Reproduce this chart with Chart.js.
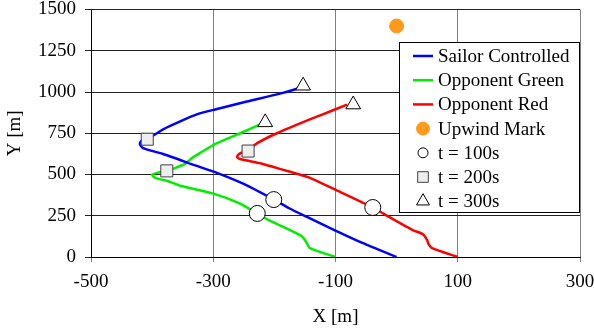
<!DOCTYPE html>
<html>
<head>
<meta charset="utf-8">
<script src="https://cdn.jsdelivr.net/npm/chart.js@4"></script>
<style>
  html, body { margin: 0; padding: 0; background: #fff; }
  #wrap { width: 594px; height: 334px; }
</style>
</head>
<body>
<div id="wrap"><canvas id="track"></canvas></div>
<script>
// boat tracks (metres)
const sailorX = [0, -55, -101, -145, -175, -201, -251, -294, -327, -382, -415, -420, -418, -410, -400, -382, -354, -327, -297, -245, -191, -163, -150];
const sailorY = [0, 84, 162, 240, 294, 348, 444, 510, 552, 624, 660, 684, 702, 720, 732, 774, 822, 864, 894, 942, 990, 1020, 1040];

const greenX = [-100, -142, -147, -152, -158, -191, -210, -228, -256, -300, -354, -376, -395, -400, -392, -376, -366, -346, -335, -322, -294, -256, -227, -220];
const greenY = [0, 54, 84, 114, 132, 192, 225, 264, 324, 384, 432, 462, 480, 498, 510, 522, 534, 564, 600, 630, 690, 750, 798, 810];

const redX = [100, 58, 52, 50, 43, 27, -11, -39, -104, -142, -191, -219, -256, -261, -258, -243, -228, -196, -142, -125, -81];
const redY = [0, 54, 80, 102, 138, 162, 240, 300, 414, 480, 534, 564, 594, 606, 624, 648, 690, 750, 834, 858, 924];

const markX = [0];
const markY = [1400];

// time stamps: sailor, green, red
const t100X = [-201, -228, -39];
const t100Y = [348, 264, 300];
const t200X = [-408, -376, -243];
const t200Y = [714, 522, 642];
const t300X = [-153, -215, -71];
const t300Y = [1038, 816, 924];

const xTicks = [-500, -300, -100, 100, 300];
const yTicks = [0, 250, 500, 750, 1000, 1250, 1500];

const toPts = (xs, ys) => xs.map((x, i) => ({ x: x, y: ys[i] }));

const SERIF = '"Liberation Serif", "Times New Roman", serif';

function track(label, xs, ys, color) {
  return {
    label: label,
    data: toPts(xs, ys),
    showLine: true,
    borderColor: color,
    backgroundColor: color,
    borderWidth: 2.5,
    pointRadius: 0,
    tension: 0.2,
    order: 2
  };
}

function stamp(label, xs, ys, style, r, fill, edge) {
  return {
    label: label,
    data: toPts(xs, ys),
    showLine: false,
    pointStyle: style,
    pointRadius: r,
    backgroundColor: fill,
    borderColor: edge,
    borderWidth: 1,
    order: 0
  };
}

const datasets = [
  track('Sailor Controlled', sailorX, sailorY, '#0000ff'),
  track('Opponent Green', greenX, greenY, '#00ee00'),
  track('Opponent Red', redX, redY, '#ff0000'),
  stamp('Upwind Mark', markX, markY, 'circle', 7, '#ff9a1a', '#ff9a1a'),
  stamp('t = 100s', t100X, t100Y, 'circle', 8, '#ffffff', '#000000'),
  stamp('t = 200s', t200X, t200Y, 'rect', 8.5, '#eeeeee', '#404040'),
  stamp('t = 300s', t300X, t300Y, 'triangle', 8.5, '#ffffff', '#000000')
];

// legend box drawn inside the plot, like the original
const boxLegend = {
  id: 'boxLegend',
  afterDraw(chart) {
    const ctx = chart.ctx;
    const left = 399, top = 42, right = chart.chartArea.right, bottom = 213;
    ctx.save();
    ctx.fillStyle = '#fff';
    ctx.fillRect(left, top, right - left, bottom - top);
    ctx.strokeStyle = '#000';
    ctx.lineWidth = 1;
    ctx.strokeRect(left + 0.5, top + 0.5, right - left - 1, bottom - top - 1);
    chart.data.datasets.forEach((ds, i) => {
      const y = 56 + i * 24.2;
      const cx = 423;
      if (ds.showLine) {
        ctx.strokeStyle = ds.borderColor;
        ctx.lineWidth = 2.5;
        ctx.beginPath();
        ctx.moveTo(413, y);
        ctx.lineTo(433, y);
        ctx.stroke();
      } else {
        let r = 5;
        if (ds.label === 'Upwind Mark') r = 6.5;
        if (ds.pointStyle !== 'circle') r = 7.5;
        ctx.fillStyle = ds.backgroundColor;
        ctx.strokeStyle = ds.borderColor;
        ctx.lineWidth = 1;
        Chart.helpers.drawPoint(ctx, { pointStyle: ds.pointStyle, radius: r, rotation: 0, borderWidth: 1 }, cx, y);
      }
      ctx.fillStyle = '#000';
      ctx.font = '19px ' + SERIF;
      ctx.textBaseline = 'middle';
      ctx.textAlign = 'left';
      ctx.fillText(ds.label, 438, y + 1);
    });
    ctx.restore();
  }
};

new Chart(document.getElementById('track'), {
  type: 'scatter',
  data: { datasets: datasets },
  options: {
    responsive: true,
    maintainAspectRatio: false,
    animation: false,
    events: [],
    layout: { padding: { left: 0, top: 7, right: 14, bottom: 0 } },
    plugins: {
      legend: { display: false },
      tooltip: { enabled: false }
    },
    scales: {
      x: {
        type: 'linear',
        min: xTicks[0],
        max: xTicks[xTicks.length - 1],
        afterBuildTicks: (s) => { s.ticks = xTicks.map(v => ({ value: v })); },
        afterFit: (s) => { s.height = 77; s.paddingLeft = 0; s.paddingRight = 0; },
        ticks: { color: '#000', font: { family: SERIF, size: 19 }, padding: 9, maxRotation: 0, callback: (v) => String(v) },
        grid: { color: '#808080', lineWidth: 1, tickLength: 5, tickColor: '#808080' },
        border: { color: '#000', width: 1 },
        title: { display: true, text: 'X [m]', color: '#000', font: { family: SERIF, size: 19 }, padding: { top: 0, bottom: 6 } }
      },
      y: {
        type: 'linear',
        min: yTicks[0],
        max: yTicks[yTicks.length - 1],
        afterBuildTicks: (s) => { s.ticks = yTicks.map(v => ({ value: v })); },
        afterFit: (s) => { s.width = 91; s.paddingTop = 0; s.paddingBottom = 0; },
        ticks: { color: '#000', font: { family: SERIF, size: 19 }, padding: 9, callback: (v) => String(v) },
        grid: { color: '#222', lineWidth: 1, tickLength: 6, tickColor: '#222' },
        border: { color: '#000', width: 1 },
        title: { display: true, text: 'Y [m]', color: '#000', font: { family: SERIF, size: 19 }, padding: { top: 4, bottom: 4 } }
      }
    }
  },
  plugins: [boxLegend]
});
</script>
</body>
</html>
